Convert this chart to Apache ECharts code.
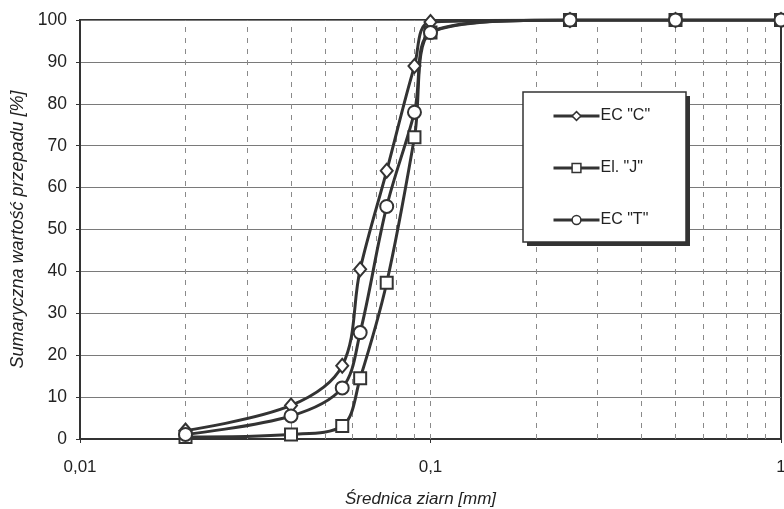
<!DOCTYPE html>
<html>
<head>
<meta charset="utf-8">
<script src="https://cdn.jsdelivr.net/npm/echarts@6/dist/echarts.min.js"></script>
<style>
  html, body { margin: 0; padding: 0; background: #fff; }
  #chart { width: 784px; height: 509px; }
</style>
</head>
<body>
<div id="chart"></div>
<script>
// Grain diameters [mm] shared by all three samples
const diameters = [0.02, 0.04, 0.056, 0.063, 0.075, 0.09, 0.1, 0.25, 0.5, 1];
// Cumulative passing [%]
const ecC = [2.0, 8.0, 17.5, 40.5, 64.0, 89.0, 99.5, 100, 100, 100];
const elJ = [0.5, 1.1, 3.1, 14.5, 37.3, 72.0, 97.0, 100, 100, 100];
const ecT = [1.1, 5.5, 12.2, 25.4, 55.5, 78.0, 97.0, 100, 100, 100];
const seriesNames = ['EC "C"', 'El. "J"', 'EC "T"'];
// Minor log-decade gridline positions
const minorGrid = [0.02, 0.03, 0.04, 0.05, 0.06, 0.07, 0.08, 0.09, 0.1,
                   0.2, 0.3, 0.4, 0.5, 0.6, 0.7, 0.8, 0.9];

const font = '"Liberation Sans", Arial, sans-serif';
const ink = '#333';

function pairs(ys) { return diameters.map((d, i) => [d, ys[i]]); }

function lineSeries(name, ys, symbol, size, extra) {
  return Object.assign({
    name: name,
    type: 'line',
    data: pairs(ys),
    smooth: 0.35,
    symbol: symbol,
    symbolSize: size,
    showAllSymbol: true,
    lineStyle: { color: ink, width: 3 },
    itemStyle: { color: '#fff', borderColor: ink, borderWidth: 2 },
    emphasis: { disabled: true },
    z: 3
  }, extra || {});
}

// Legend frame: a drop shadow block with a white bordered panel on top
const legendBox = { x: 523, y: 92, w: 163, h: 150, shadow: 4 };

const chart = echarts.init(document.getElementById('chart'), null, { renderer: 'canvas' });
chart.setOption({
  backgroundColor: '#fff',
  animation: false,
  textStyle: { fontFamily: font },
  grid: {
    left: 80, right: 3, top: 20, bottom: 70,
    outerBoundsMode: 'none',
    containLabel: false,
    show: true, borderColor: ink, borderWidth: 2, backgroundColor: 'transparent'
  },
  graphic: [
    {
      type: 'rect', z: 10, silent: true,
      shape: { x: legendBox.x + legendBox.shadow, y: legendBox.y + legendBox.shadow,
               width: legendBox.w, height: legendBox.h },
      style: { fill: '#333' }
    },
    {
      type: 'rect', z: 11, silent: true,
      shape: { x: legendBox.x, y: legendBox.y, width: legendBox.w, height: legendBox.h },
      style: { fill: '#fff', stroke: ink, lineWidth: 1.5 }
    }
  ],
  legend: {
    orient: 'vertical',
    left: 552, top: 107,
    padding: 0,
    itemGap: 34,
    itemWidth: 46,
    itemHeight: 11,
    z: 20,
    lineStyle: { color: ink, width: 3 },
    itemStyle: { color: '#fff', borderColor: ink, borderWidth: 1.5 },
    textStyle: { fontFamily: font, fontSize: 16, color: '#222', padding: [0, 0, 0, -4],
                 lineHeight: 18 },
    data: seriesNames
  },
  xAxis: {
    type: 'log',
    logBase: 10,
    min: 0.01, max: 1,
    name: 'Średnica ziarn [mm]',
    nameLocation: 'middle',
    nameGap: 52,
    nameTextStyle: { fontFamily: font, fontSize: 17, fontStyle: 'italic', color: '#222',
                     padding: [0, 20, 0, 0] },
    axisLine: { show: true, lineStyle: { color: ink, width: 2 } },
    axisTick: { show: true, length: 4, lineStyle: { color: ink } },
    axisLabel: {
      fontFamily: font, fontSize: 17, color: '#222', margin: 20,
      formatter: v => String(v).replace('.', ',')
    },
    splitLine: { show: false }
  },
  yAxis: {
    type: 'value',
    min: 0, max: 100, interval: 10,
    name: 'Sumaryczna wartość przepadu [%]',
    nameLocation: 'middle',
    nameGap: 53,
    nameTextStyle: { fontFamily: font, fontSize: 18, fontStyle: 'italic', color: '#222' },
    axisLine: { show: true, lineStyle: { color: ink, width: 2 } },
    axisTick: { show: true, length: 4, lineStyle: { color: ink } },
    axisLabel: { fontFamily: font, fontSize: 17.5, color: '#222', margin: 13 },
    splitLine: { show: true, lineStyle: { color: '#7a7a7a', width: 1 } }
  },
  series: [
    lineSeries(seriesNames[0], ecC, 'diamond', [12, 14], {
      markLine: {
        silent: true,
        symbol: ['none', 'none'],
        label: { show: false },
        lineStyle: { color: '#8a8a8a', width: 1, type: [5, 6] },
        emphasis: { disabled: true },
        data: minorGrid.map(v => ({ xAxis: v })),
        z: 1
      }
    }),
    lineSeries(seriesNames[1], elJ, 'rect', 12),
    lineSeries(seriesNames[2], ecT, 'circle', 13)
  ]
});
</script>
</body>
</html>
